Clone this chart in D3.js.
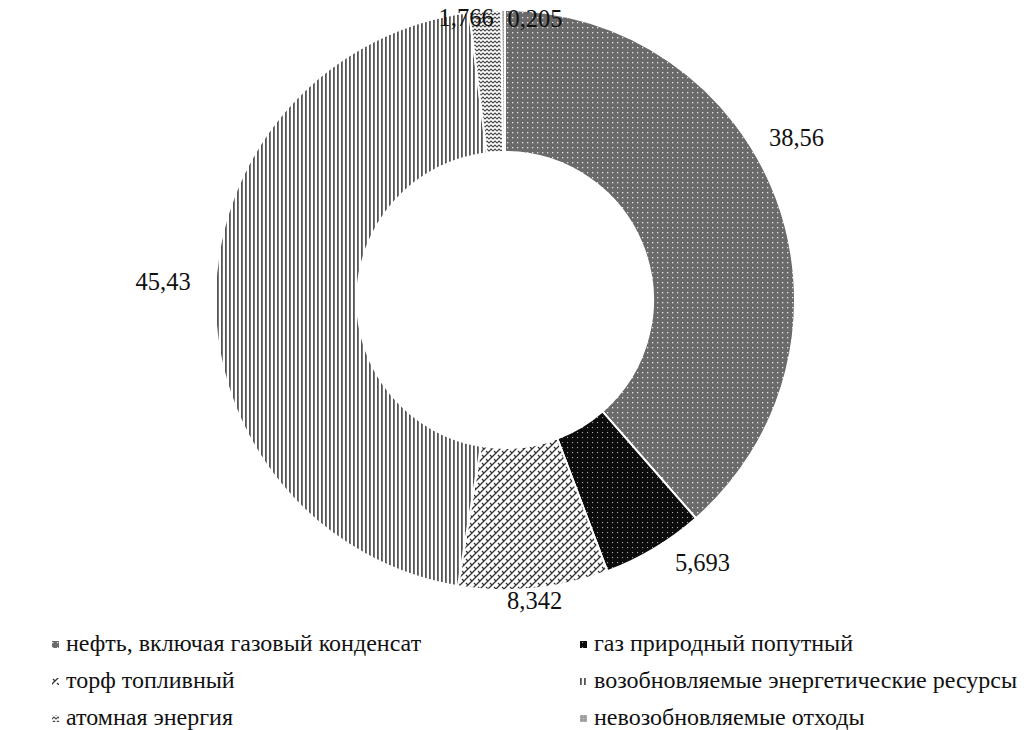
<!DOCTYPE html>
<html><head><meta charset="utf-8">
<script src="https://cdn.jsdelivr.net/npm/d3@7"></script>
<style>html,body{margin:0;padding:0;background:#fff;}svg{display:block;}</style>
</head><body>
<svg id="chart" width="1024" height="730"></svg>
<script>
const categories = ["нефть, включая газовый конденсат","газ природный попутный","торф топливный","возобновляемые энергетические ресурсы","атомная энергия","невозобновляемые отходы"];
const values = [38.56, 5.693, 8.342, 45.43, 1.766, 0.205];
const valueLabels = ["38,56","5,693","8,342","45,43","1,766","0,205"];
const patternIds = ["pOil","pGas","pPeat","pRenew","pAtom","pWaste"];
// label nudges relative to the arc centroid outside the ring
const labelNudge = [[-8,-50],[33,-12],[-2,-18],[-22,-12],[-17,37],[32,38]];

const FONT = "'Liberation Serif','Times New Roman','DejaVu Serif',serif";
const svg = d3.select("#chart");
const defs = svg.append("defs");

function pat(id,w,h,bg){
  const p = defs.append("pattern").attr("id",id).attr("patternUnits","userSpaceOnUse").attr("width",w).attr("height",h);
  p.append("rect").attr("width",w).attr("height",h).attr("fill",bg);
  return p;
}
// oil: gray with white dots
let p = pat("pOil",5,5,"#6a6a6a");
p.append("rect").attr("x",2).attr("y",2).attr("width",1.3).attr("height",1.3).attr("fill","#e6e6e6");
// gas: black with white dots
p = pat("pGas",5,5,"#0c0c0c");
p.append("rect").attr("x",2).attr("y",2).attr("width",1.1).attr("height",1.1).attr("fill","#aaaaaa");
// peat: diagonal brick
p = pat("pPeat",8,8,"#ffffff");
p.append("path").attr("d","M-2,10 L10,-2 M-6,6 L6,-6 M2,14 L14,2").attr("stroke","#333").attr("stroke-width",1.3).attr("fill","none");
p.append("path").attr("d","M1,3 L3,5 M5,7 L7,9 M5,-1 L7,1").attr("stroke","#333").attr("stroke-width",1.3).attr("fill","none");
// renewable: vertical lines
p = pat("pRenew",4,4,"#ffffff");
p.append("rect").attr("x",0).attr("y",0).attr("width",1.8).attr("height",4).attr("fill","#555");
// atomic: zigzag
p = pat("pAtom",4,4,"#ffffff");
p.append("path").attr("d","M-2,1 L0,3 L2,1 L4,3 L6,1").attr("stroke","#444").attr("stroke-width",1.1).attr("fill","none");
// waste: light gray
p = pat("pWaste",3,3,"#a0a0a0");
p.append("rect").attr("x",1).attr("y",1).attr("width",1).attr("height",1).attr("fill","#c0c0c0");

const cx = 505, cy = 300, R = 290, r0 = 148;
const g = svg.append("g").attr("transform",`translate(${cx},${cy})`);
const pie = d3.pie().sort(null).value(d=>d.v);
const data = values.map((v,i)=>({v,i}));
const arcs = pie(data);
const arc = d3.arc().innerRadius(r0).outerRadius(R);
const labelArc = d3.arc().innerRadius(R+30).outerRadius(R+30);

g.selectAll("path.slice").data(arcs).enter().append("path")
  .attr("class","slice")
  .attr("d",arc)
  .attr("fill",d=>`url(#${patternIds[d.data.i]})`)
  .attr("stroke","#fff").attr("stroke-width",2);

g.selectAll("text.lbl").data(arcs).enter().append("text")
  .attr("class","lbl")
  .attr("x",d=>labelArc.centroid(d)[0]+labelNudge[d.data.i][0])
  .attr("y",d=>labelArc.centroid(d)[1]+labelNudge[d.data.i][1])
  .attr("text-anchor","middle").attr("dominant-baseline","central")
  .attr("font-family",FONT)
  .attr("font-size",24.5).attr("fill","#111")
  .text(d=>valueLabels[d.data.i]);

// legend
const colX = [52, 580];
const rowY = [651, 688, 725];
const leg = svg.append("g");
categories.forEach((c,i)=>{
  const x = colX[i%2], y = rowY[Math.floor(i/2)];
  leg.append("rect").attr("x",x).attr("y",y-10).attr("width",7).attr("height",7)
    .attr("fill",`url(#${patternIds[i]})`);
  leg.append("text").attr("x",x+14).attr("y",y)
    .attr("font-family",FONT)
    .attr("font-size",24).attr("fill","#111").text(c);
});
</script>
</body></html>
